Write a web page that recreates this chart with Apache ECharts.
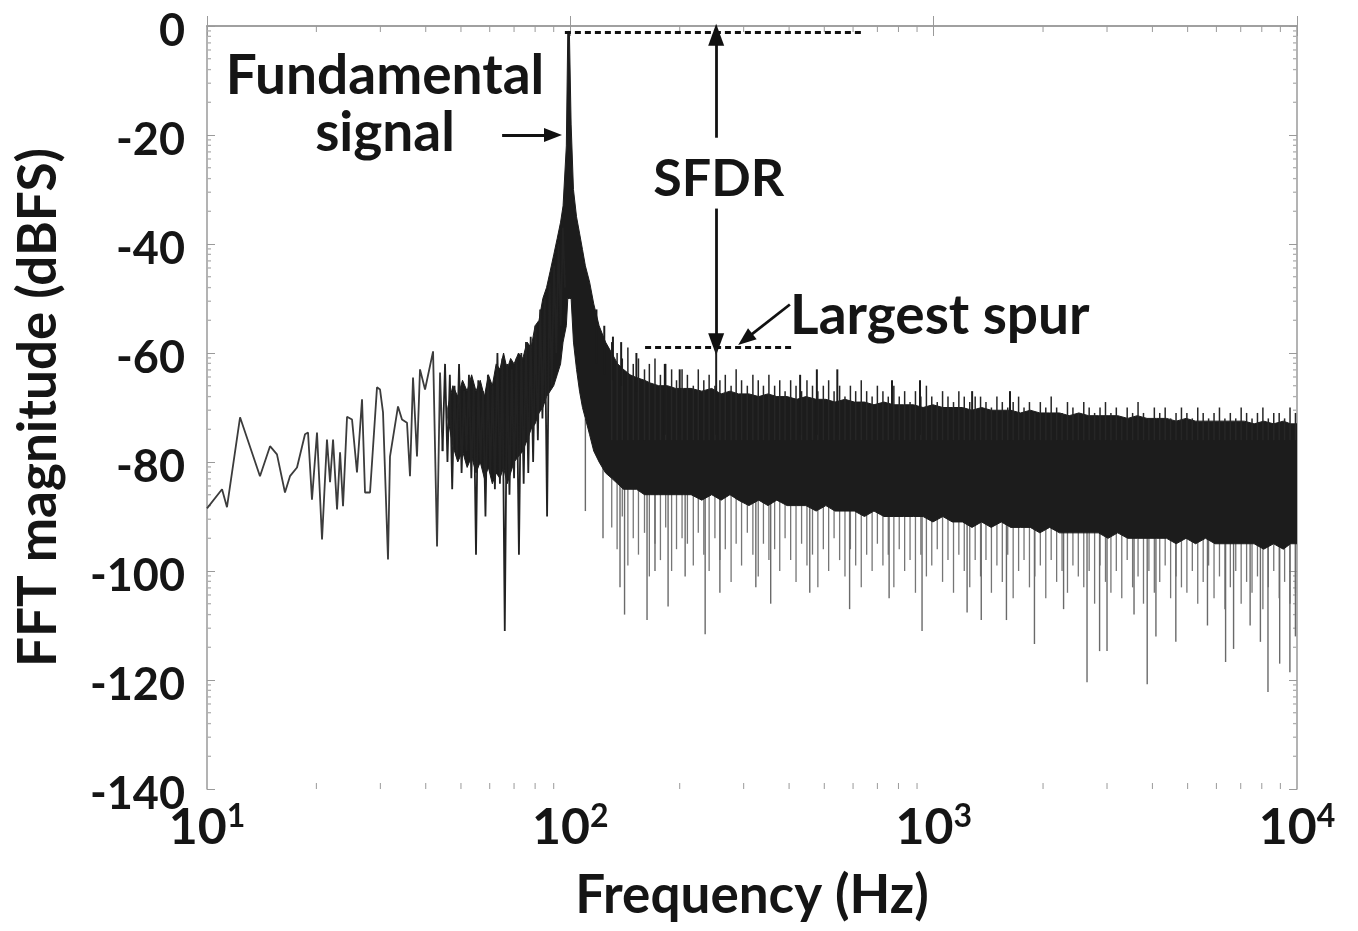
<!DOCTYPE html>
<html><head><meta charset="utf-8">
<script src="https://cdn.jsdelivr.net/npm/echarts@6/dist/echarts.min.js"></script>
<style>html,body{margin:0;padding:0;background:#fff}#c{width:1358px;height:931px}</style>
</head><body><div id="c"></div>
<script>
// ---------- axis ticks ----------
const xTicks = [10, 100, 1000, 10000];
const xMinorTicks = [20,30,40,50,60,70,80,90,200,300,400,500,600,700,800,900,2000,3000,4000,5000,6000,7000,8000,9000];
const yTicks = [0, -20, -40, -60, -80, -100, -120, -140];
// minor ticks of the source figure sit log-style above each major tick (dB above it)
const yMinorOffsets = [6.0, 9.5, 12.0, 14.0, 15.6, 16.9, 18.1, 19.1];

// ---------- sparse trace, 10-45 Hz [Hz, dBFS] ----------
const lowFreq = [
  [10.0,-88.5],[11.0,-85.0],[11.35,-88.3],[12.33,-71.8],[13.99,-82.6],[14.91,-77.1],[15.58,-78.6],
  [16.39,-85.6],[16.92,-82.6],[17.69,-81.0],[18.61,-74.9],[18.97,-74.6],[19.45,-86.9],[20.08,-74.6],
  [20.73,-94.2],[21.39,-75.9],[21.81,-83.7],[22.23,-75.9],[22.80,-88.7],[23.24,-78.2],[23.68,-88.1],
  [24.29,-71.7],[25.07,-72.2],[25.87,-81.9],[26.71,-68.5],[27.22,-85.6],[28.10,-85.6],[29.37,-66.3],
  [29.94,-66.7],[30.51,-70.9],[31.49,-97.9],[31.89,-79.0],[33.55,-69.8],[34.41,-72.2],[35.52,-72.8],
  [36.2,-82.6],[36.9,-64.5],[37.84,-79.0],[38.57,-63.0],[39.82,-66.7],[41.9,-59.7],[42.97,-95.5],
  [43.79,-63.6],[44.5,-78]
];
// ---------- dense trace, 45-97 Hz [Hz, dBFS] ----------
const midFreq = [
  [44.5,-78],[45.2,-62],[45.9,-80],[46.6,-64],[47.3,-85],[48.0,-66],[48.7,-79],[49.4,-62],
  [50.2,-82],[51.0,-67],[51.8,-78],[52.6,-64],[53.4,-83],[54.2,-66],[55.0,-97],[55.8,-65],[56.6,-80],
  [57.5,-67],[58.4,-90],[59.3,-64],[60.2,-82],[61.1,-66],[62.0,-85],[63.0,-60],[64.0,-84],[65.0,-61],
  [66.0,-111],[67.0,-62],[68.0,-86],[69.0,-63],[70.0,-83],[71.1,-61],[72.2,-97],[73.3,-60],[74.4,-84],
  [75.5,-58],[76.6,-82],[77.8,-57],[79.0,-80],[80.2,-55],[81.4,-76],[82.6,-52],[83.8,-72],[85.0,-50],
  [86.3,-90],[87.6,-47],[88.9,-66],[90.2,-44],[91.5,-60],[92.8,-40],[94.1,-55],[95.4,-37],[96.7,-48]
];

// ---------- solid core of the spectrum: envelope ----------
const bandFreq = [
  46,47.5,49,50.5,52,53.5,55,56.5,58,59.5,61,62.5,64,65.5,67,68.5,70,72,74,76,78,80,82,84,86,88,90,92,94,95.5,97.5,
  98.4,99.4,
  100.5,102,104,106,108,110,113,116,120,125,130,135,140,146,152,160,166,175,185,195,205,
  215,230,245,260,275,290,310,330,350,370,395,420,445,475,505,535,570,605,645,685,730,775,825,880,935,995,
  1060,1125,1200,1275,1355,1440,1535,1630,1735,1845,1960,2085,2220,2360,2510,2670,2840,3020,3210,3420,3635,
  3865,4110,4375,4650,4950,5260,5600,5950,6330,6730,7160,7620,8100,8620,9170,9600,10000
];
const bandTop = [
  -70,-66,-68,-65,-67,-64,-67,-65,-68,-64,-66,-62,-63,-60,-63,-61,-62,-60,-61,-58,-59,-55,-54,-50,-48,-45,-42,-39,-36,-33,-22,
  -1,-1,
  -18,-30,-35,-38,-41,-44,-47,-51,-55,-58,-60,-62,-63,-64,-64.5,-65,-65.5,-66,-66,-66.5,-66.5,
  -66.5,-67,-66.5,-67.5,-67,-67.5,-67.5,-68,-67.5,-68,-68,-68.5,-68,-68.5,-68.5,-69,-68.5,-69,-69,-69.5,-69,-69.5,-69.5,-69.5,-70,-69.5,
  -70,-70,-70,-70.5,-70,-70.5,-70.5,-70.5,-71,-70.5,-71,-71,-71,-71.5,-71,-71.5,-71.5,-71.5,-71.5,-72,-71.5,
  -72,-72,-72,-72.5,-72,-72.5,-72.5,-72.5,-72.5,-72.5,-72.5,-73,-72.5,-73,-72.5,-73,-73
];
const bandBottom = [
  -72,-77,-80,-78,-81,-79,-82,-80,-83,-81,-84,-82,-83,-81,-84,-82,-80,-79,-78,-76,-74,-73,-71,-70,-68,-67,-66,-64,-62,-58,-55,
  -50,-50,
  -50,-58,-63,-67,-70,-72,-75,-78,-80,-82,-83,-84,-85,-85,-85,-86,-86,-86,-86,-86,-86,
  -86,-87,-86,-87,-86,-87,-88,-87,-88,-87,-88,-88,-88,-89,-88,-89,-89,-89,-90,-89,-90,-90,-90,-90,-90,-91,
  -90,-91,-91,-92,-91,-92,-91,-92,-92,-92,-93,-92,-93,-93,-93,-93,-93,-94,-93,-94,-94,
  -94,-94,-94,-95,-94,-95,-94,-95,-95,-95,-95,-95,-96,-95,-96,-95,-95
];

// ---------- fine texture: hairs above / below the core at these frequencies ----------
const combFreq = [
  130,134.5,139,144,149,154,160,165,171,177,183,190,196,203,
  210,218,225,233,241,250,258,267,277,286,296,307,318,329,340,352,
  365,377,390,404,418,433,448,464,480,497,514,532,551,570,590,610,632,654,677,700,
  725,750,777,804,832,861,891,922,955,988,1023,1058,1095,1134,1173,1214,1257,1301,
  1346,1393,1442,1493,1545,1599,1655,1713,1773,1835,1899,1966,2035,2106,2180,2256,2335,2417,2501,
  2589,2679,2773,2870,2971,3075,3182,3294,3409,3528,3652,3780,3912,4049,4190,4337,4489,4646,4808,
  4977,5151,5331,5518,5711,5911,6118,6332,6554,6783,7020,7266,7520,7784,8056,8338,8630,8932,9245,9568,9903
];
const combUp = [
  -58,-60,-61,-59,-62,-61,-63,-62,-61,-64,-62,-63,-65,-63,
  -64,-66,-63,-65,-64,-66,-65,-64,-66,-63,-65,-66,-64,-65,-66,-64,
  -66,-65,-67,-65,-66,-67,-65,-66,-67,-66,-65,-67,-66,-68,-66,-67,-65,-67,-68,-66,
  -67,-68,-66,-68,-67,-69,-67,-68,-66,-68,-69,-67,-68,-69,-67,-68,-69,-68,
  -68,-69,-70,-68,-69,-70,-69,-68,-70,-69,-71,-69,-70,-68,-70,-71,-69,-70,-71,
  -69,-70,-71,-70,-69,-71,-70,-72,-70,-71,-69,-71,-72,-70,-71,-70,-72,-71,-70,
  -71,-72,-70,-71,-72,-71,-70,-72,-71,-72,-70,-71,-72,-71,-70,-72,-71,-71,-72,-70,-71
];
const combDown = [
  -92,-96,-90,-99,-94,-97,-93,-101,-95,-98,-92,-100,-96,-94,
  -95,-99,-93,-97,-100,-94,-98,-96,-102,-95,-99,-93,-97,-101,-95,-98,
  -96,-100,-94,-98,-102,-95,-99,-97,-103,-96,-100,-94,-98,-101,-96,-99,-103,-97,-100,-95,
  -99,-97,-103,-96,-100,-98,-104,-97,-101,-99,-96,-102,-98,-104,-97,-100,-103,-98,
  -101,-98,-104,-99,-102,-97,-105,-100,-98,-103,-101,-99,-105,-98,-102,-100,-104,-99,-101,
  -103,-100,-106,-99,-102,-104,-100,-105,-98,-103,-101,-106,-100,-104,-102,-99,-105,-101,-103,
  -104,-100,-106,-102,-99,-105,-101,-107,-103,-100,-106,-102,-104,-101,-107,-103,-100,-105,-102,-106,-104
];

// ---------- individual long spikes [Hz, from dB, to dB] ----------
const spikesDown = [
  [110,-72,-89],[123,-78,-94],[137,-80,-103],[141,-82,-108],[162.6,-84,-109],[171,-84,-100],[185.8,-84,-106.5],
  [207,-85,-101],[235,-85,-111.6],[258,-85,-104],[324,-85,-103],[356,-85,-106],
  [456,-86,-104],[587,-86,-107],[754,-87,-105],[929,-88,-111],
  [1236,-88,-107.6],[1352,-89,-109],[1586,-89,-109],[1894,-90,-113.4],
  [2278,-90,-107],[2643,-90,-120.4],[2862,-91,-114.7],[3000,-91,-114.7],[3560,-91,-108],
  [3870,-92,-120.8],[4090,-92,-112],[4640,-92,-113],[5670,-92,-110],[6360,-93,-116.7],
  [6690,-93,-114.3],[7430,-93,-110],[7930,-93,-113],[8320,-93,-122.2],
  [8960,-93,-117],[9560,-93,-118.6],[9900,-93,-112]
];
const spikesUp = [
  [118,-62,-52],[124,-64,-55],[131,-65,-57],[138,-66,-58],[152,-67,-60],
  [182,-75,-62],[200,-75,-63],[252,-75,-59],[429,-75,-64],[477,-75,-63],[543,-75,-63],
  [768,-75,-65],[917,-75,-65],[1276,-76,-67],[1622,-76,-67]
];

// ---------- annotation anchors [Hz, dBFS] ----------
const fundLine = [[96.6,-1.1],[635,-1.1]];
const spurLine = [[160.6,-59],[415,-59]];
const sfdrUp = [[252,-20.5],[252,-1.6]];
const sfdrDown = [[252,-33.5],[252,-58.4]];
const spurArrow = [[402,-51.1],[303,-57.5]];
const fundArrow = [[64.9,-20],[89.6,-20]];
const labels = [
  {text:'Fundamental', at:[30.9,-9.3], size:55},
  {text:'signal', at:[30.9,-19.6], size:55},
  {text:'SFDR', at:[256,-28.2], size:52},
  {text:'Largest spur', at:[1040,-53.2], size:55}
];

const FONT = 'Lato';
const TXT = '#151515';
const axisGray = '#9a9a9a';

function seg(p, q, arrow) {
  return [{coord: p, symbol: 'none'}, {coord: q, symbol: arrow ? 'triangle' : 'none', symbolSize: arrow || 0}];
}
function vline(color, width) {
  return (params, api) => {
    const a = api.coord([api.value(0), api.value(1)]);
    const b = api.coord([api.value(0), api.value(2)]);
    return {type: 'line', shape: {x1: a[0], y1: a[1], x2: b[0], y2: b[1]}, style: {stroke: color, lineWidth: width}};
  };
}

const chart = echarts.init(document.getElementById('c'), null, {renderer: 'canvas'});
const option = {
  backgroundColor: '#fff',
  animation: false,
  grid: {left: 207, right: 61, top: 26, bottom: 142},
  xAxis: [{
    type: 'log', logBase: 10, min: 10, max: 10000,
    axisLine: {show: true, lineStyle: {color: axisGray, width: 1.5}},
    axisTick: {show: true, inside: true, length: 10, lineStyle: {color: axisGray}},
    splitLine: {show: false},
    axisLabel: {
      margin: 12,
      formatter: v => '{b|10}{s|' + Math.round(Math.log10(v)) + '}',
      rich: {
        b: {fontFamily: FONT, fontWeight: 'bold', fontSize: 50, lineHeight: 54, color: TXT},
        s: {fontFamily: FONT, fontWeight: 'bold', fontSize: 32, lineHeight: 32, verticalAlign: 'top', color: TXT}
      }
    },
    name: 'Frequency (Hz)', nameLocation: 'middle', nameGap: 80,
    nameTextStyle: {fontFamily: FONT, fontWeight: 'bold', fontSize: 53, color: TXT}
  }, {
    type: 'log', logBase: 10, min: 10, max: 10000, position: 'top',
    axisLine: {show: true, lineStyle: {color: axisGray, width: 1.5}},
    axisTick: {show: true, inside: true, length: 10, lineStyle: {color: axisGray}},
    axisLabel: {show: false}, splitLine: {show: false}
  }],
  yAxis: [{
    type: 'value', min: -140, max: 0, interval: 20,
    axisLine: {show: true, lineStyle: {color: axisGray, width: 1.5}},
    axisTick: {show: true, inside: true, length: 8, lineStyle: {color: axisGray}},
    splitLine: {show: false},
    axisLabel: {
      margin: 22, formatter: v => '{a|' + v + '}',
      rich: {a: {color: TXT, fontFamily: FONT, fontWeight: 'bold', fontSize: 45, padding: [10, 0, 0, 0]}}
    },
    name: 'FFT magnitude (dBFS)', nameLocation: 'middle', nameGap: 142, nameRotate: 90,
    nameTextStyle: {fontFamily: FONT, fontWeight: 'bold', fontSize: 53, color: TXT}
  }, {
    type: 'value', min: -140, max: 0, interval: 20, position: 'right',
    axisLine: {show: true, lineStyle: {color: axisGray, width: 1.5}},
    axisTick: {show: true, inside: true, length: 8, lineStyle: {color: axisGray}},
    axisLabel: {show: false}, splitLine: {show: false}
  }],
  series: [
    { // log-style minor ticks of the frame
      type: 'custom', name: 'frame', silent: true, clip: false, z: 1,
      data: [[100, -70]],
      renderItem: (params, api) => {
        const children = [];
        xMinorTicks.forEach(f => {
          const b = api.coord([f, -140]), t = api.coord([f, 0]);
          children.push({type: 'line', shape: {x1: b[0], y1: b[1], x2: b[0], y2: b[1] - 6}, style: {stroke: axisGray, lineWidth: 1}});
          children.push({type: 'line', shape: {x1: t[0], y1: t[1], x2: t[0], y2: t[1] + 6}, style: {stroke: axisGray, lineWidth: 1}});
        });
        yTicks.slice(1).forEach(y0 => {
          yMinorOffsets.forEach(o => {
            const l = api.coord([10, y0 + o]), r = api.coord([10000, y0 + o]);
            children.push({type: 'line', shape: {x1: l[0], y1: l[1], x2: l[0] + 4, y2: l[1]}, style: {stroke: '#b0b0b0', lineWidth: 1.3}});
            children.push({type: 'line', shape: {x1: r[0], y1: r[1], x2: r[0] - 4, y2: r[1]}, style: {stroke: '#b0b0b0', lineWidth: 1.3}});
          });
        });
        return {type: 'group', children};
      }
    },
    {
      type: 'line', name: 'low', data: lowFreq, showSymbol: false, z: 3,
      lineStyle: {color: '#3c3c3c', width: 1.8}
    },
    {
      type: 'line', name: 'mid', data: midFreq, showSymbol: false, z: 5,
      lineStyle: {color: '#222', width: 1.8}
    },
    {
      type: 'custom', name: 'combDown', z: 2, clip: true,
      data: combFreq.map((f, i) => [f, -82, combDown[i]]), encode: {x: 0, y: [1, 2]},
      renderItem: vline('#767676', 1.3)
    },
    {
      type: 'custom', name: 'spikesDown', z: 2, clip: true,
      data: spikesDown, encode: {x: 0, y: [1, 2]},
      renderItem: vline('#6a6a6a', 1.4)
    },
    {
      type: 'custom', name: 'band', z: 4, clip: true,
      data: [[bandFreq[0], bandTop[0]]],
      renderItem: (params, api) => {
        const pts = [];
        for (let i = 0; i < bandFreq.length; i++) pts.push(api.coord([bandFreq[i], bandTop[i]]));
        for (let i = bandFreq.length - 1; i >= 0; i--) pts.push(api.coord([bandFreq[i], bandBottom[i]]));
        return {type: 'polygon', shape: {points: pts}, style: {fill: '#1c1c1c', stroke: '#1c1c1c', lineWidth: 1}};
      }
    },
    {
      type: 'custom', name: 'combUp', z: 5, clip: true,
      data: combFreq.map((f, i) => [f, -76, combUp[i]]), encode: {x: 0, y: [1, 2]},
      renderItem: vline('#262626', 1.5)
    },
    {
      type: 'custom', name: 'spikesUp', z: 5, clip: true,
      data: spikesUp, encode: {x: 0, y: [1, 2]},
      renderItem: vline('#1c1c1c', 2),
      markLine: { // dashed reference levels
        silent: true, symbol: ['none', 'none'], label: {show: false}, animation: false,
        lineStyle: {color: '#111', width: 3, type: [6, 4]},
        data: [seg(fundLine[0], fundLine[1]), seg(spurLine[0], spurLine[1])]
      }
    },
    { // annotations
      type: 'custom', name: 'notes', z: 6, silent: true, clip: false,
      data: [[100, -70]],
      renderItem: () => ({type: 'group', children: []}),
      markLine: {
        silent: true, symbol: ['none', 'none'], label: {show: false}, animation: false,
        lineStyle: {color: '#111', width: 2.8, type: 'solid'},
        data: [
          seg(sfdrUp[0], sfdrUp[1], [16, 22]),
          seg(sfdrDown[0], sfdrDown[1], [16, 22]),
          seg(spurArrow[0], spurArrow[1], [14, 18]),
          seg(fundArrow[0], fundArrow[1], [14, 18])
        ]
      },
      markPoint: {
        silent: true, symbol: 'circle', symbolSize: 0, animation: false,
        data: labels.map(l => ({
          coord: l.at, value: l.text,
          label: {show: true, position: 'inside', formatter: l.text, color: TXT,
                  fontFamily: FONT, fontWeight: 'bold', fontSize: l.size}
        }))
      }
    }
  ]
};
chart.setOption(option);
</script>
</body></html>
